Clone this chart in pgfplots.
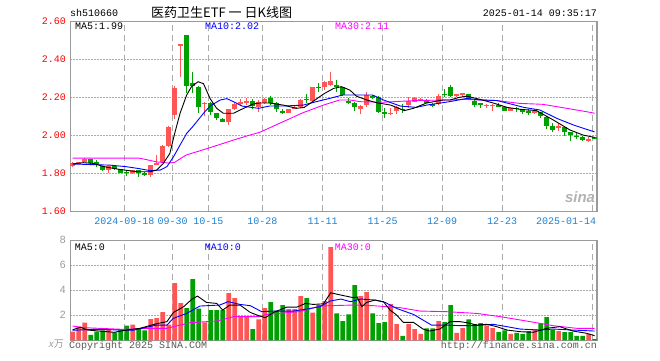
\documentclass[border=0pt]{standalone}
\usepackage{pgfplots}
\pgfplotsset{compat=1.18}
\usepackage{pgfplotstable}
\usepackage{fontspec}
\setmainfont{Liberation Mono}
\newfontfamily\mono{Liberation Mono}
\newfontfamily\sans{Liberation Sans}
\newfontfamily\cjk{Noto Sans CJK SC}
\definecolor{cred}{HTML}{FF5555}
\definecolor{cgreen}{HTML}{00A000}
\definecolor{cblue}{HTML}{0000FF}
\definecolor{cmag}{HTML}{FF00FF}
\definecolor{cdate}{HTML}{1E80D0}
\definecolor{cgrid}{HTML}{ABABAB}
\definecolor{cborder}{HTML}{9A9A9A}

% red (up) candles: index, open, high, low, close, volume
\pgfplotstableread{
i o h l c v
0 1.838 1.860 1.835 1.856 0.69
1 1.852 1.862 1.848 1.858 1.09
2 1.861 1.878 1.858 1.874 1.41
6 1.817 1.840 1.803 1.838 0.90
10 1.800 1.820 1.795 1.817 1.25
13 1.791 1.846 1.778 1.844 1.70
14 1.844 1.896 1.842 1.856 1.78
15 1.859 1.950 1.855 1.944 2.26
16 1.944 2.050 1.940 2.045 1.25
17 2.107 2.258 2.084 2.250 4.57
18 2.474 2.480 2.308 2.478 2.98
22 2.165 2.177 2.102 2.172 1.44
26 2.072 2.140 2.054 2.138 3.78
27 2.137 2.168 2.134 2.165 3.38
28 2.168 2.190 2.154 2.177 1.86
29 2.175 2.195 2.160 2.178 1.91
31 2.151 2.186 2.124 2.174 1.68
32 2.168 2.195 2.165 2.189 2.58
36 2.119 2.140 2.115 2.137 2.50
37 2.143 2.154 2.137 2.146 2.50
38 2.147 2.190 2.145 2.186 3.54
40 2.183 2.255 2.180 2.252 2.21
42 2.256 2.285 2.238 2.282 3.14
43 2.265 2.335 2.262 2.287 7.45
48 2.138 2.160 2.112 2.156 3.54
49 2.159 2.226 2.151 2.212 3.86
53 2.114 2.142 2.107 2.118 2.90
54 2.130 2.154 2.112 2.150 1.30
56 2.159 2.200 2.142 2.180 1.30
57 2.177 2.200 2.175 2.194 0.90
58 2.188 2.196 2.183 2.191 0.51
61 2.165 2.215 2.160 2.206 1.54
64 2.206 2.220 2.200 2.217 0.59
65 2.218 2.222 2.203 2.221 0.98
69 2.157 2.165 2.142 2.160 1.17
70 2.157 2.165 2.130 2.160 0.98
73 2.130 2.145 2.128 2.142 0.51
77 2.122 2.137 2.112 2.125 0.88
81 2.043 2.065 2.024 2.046 0.74
86 1.974 1.989 1.966 1.978 0.51
}\candR

% green (down) candles
\pgfplotstableread{
i o h l c v
3 1.874 1.876 1.850 1.853 0.43
4 1.857 1.870 1.835 1.853 0.69
5 1.838 1.840 1.810 1.817 0.80
7 1.838 1.840 1.815 1.821 0.64
8 1.821 1.825 1.800 1.803 0.85
9 1.808 1.817 1.786 1.805 1.17
11 1.817 1.820 1.782 1.800 0.90
12 1.803 1.806 1.785 1.789 0.80
19 2.528 2.530 2.224 2.259 2.58
20 2.274 2.335 2.221 2.261 4.89
21 2.256 2.258 2.119 2.147 2.53
23 2.172 2.175 2.107 2.124 2.42
24 2.118 2.120 2.078 2.092 2.42
25 2.088 2.090 2.068 2.072 2.42
30 2.180 2.190 2.137 2.154 0.90
33 2.198 2.206 2.159 2.168 3.06
34 2.168 2.177 2.124 2.137 2.37
35 2.126 2.137 2.110 2.122 2.82
39 2.192 2.217 2.168 2.188 3.38
41 2.254 2.277 2.230 2.250 2.82
44 2.265 2.291 2.230 2.252 2.15
45 2.252 2.255 2.205 2.212 1.54
46 2.179 2.195 2.163 2.175 2.07
47 2.172 2.175 2.130 2.147 4.41
50 2.206 2.212 2.190 2.202 2.15
51 2.200 2.205 2.118 2.124 1.38
52 2.121 2.142 2.089 2.117 1.46
55 2.139 2.163 2.119 2.135 0.35
59 2.183 2.190 2.168 2.172 0.96
60 2.165 2.170 2.150 2.154 0.96
62 2.219 2.243 2.203 2.215 1.46
63 2.252 2.265 2.200 2.206 2.82
66 2.217 2.220 2.185 2.189 1.68
67 2.183 2.186 2.147 2.159 1.30
68 2.167 2.168 2.142 2.163 1.38
71 2.158 2.168 2.147 2.154 0.66
72 2.147 2.150 2.128 2.130 0.80
74 2.144 2.150 2.124 2.140 0.59
75 2.130 2.137 2.112 2.126 0.51
76 2.126 2.137 2.107 2.122 0.74
78 2.121 2.124 2.093 2.102 1.36
79 2.095 2.100 2.032 2.051 1.86
80 2.049 2.063 2.019 2.028 0.82
82 2.042 2.045 1.996 2.019 0.66
83 2.019 2.020 1.972 2.001 0.66
84 1.998 2.010 1.979 1.994 0.35
85 1.993 1.997 1.972 1.975 0.35
87 1.988 1.990 1.982 1.985 0.10
}\candG

% price moving averages
\pgfplotstableread{
i m
0 1.849
1.8 1.856
3.5 1.852
5.2 1.835
7.7 1.821
10.8 1.808
12.9 1.808
14 1.817
15.1 1.852
16.2 1.905
17 2.010
17.9 2.116
19 2.212
19.8 2.256
20.9 2.282
21.8 2.272
22.9 2.194
24 2.142
25.1 2.116
26.8 2.116
28.5 2.142
30.1 2.165
31.1 2.170
32.8 2.170
35.1 2.159
37.3 2.142
38.6 2.147
40 2.177
41.8 2.217
43.5 2.247
44.8 2.256
46.2 2.238
47.3 2.206
49 2.186
50.6 2.172
53 2.159
55.3 2.130
56.8 2.142
59 2.170
61.7 2.186
62.9 2.186
64.5 2.200
65.7 2.206
67.9 2.189
70.1 2.170
72.4 2.147
74.5 2.137
77.3 2.130
80.1 2.081
82.9 2.028
85.1 2.001
87 1.989
}\maA

\pgfplotstableread{
i m
0 1.849
3 1.846
6.2 1.843
8.9 1.835
11 1.825
12.9 1.814
14.6 1.817
15.7 1.835
16.8 1.887
17.9 1.949
19 2.010
20.1 2.049
21.8 2.116
22.9 2.154
24.6 2.186
25.7 2.193
26.8 2.177
28.2 2.154
29.8 2.147
31 2.142
32.8 2.154
35.1 2.154
38.4 2.159
40.6 2.177
42.8 2.194
45 2.212
50 2.212
51.8 2.186
54.6 2.154
57.3 2.147
59 2.159
62.8 2.177
65.7 2.194
67.9 2.186
70.7 2.183
73 2.165
75.2 2.147
77.9 2.133
80.7 2.089
83.5 2.054
85.7 2.031
87 2.018
}\maB

\pgfplotstableread{
i m
0 1.880
11 1.880
12 1.874
14 1.860
16 1.854
17 1.858
18.9 1.896
22.6 1.932
26.8 1.975
29.5 2.001
31.2 2.016
35.1 2.072
38.4 2.119
41.8 2.159
44.5 2.186
46.2 2.186
47.9 2.177
51.8 2.174
53.4 2.177
57.3 2.183
62.9 2.186
65.1 2.189
70.7 2.183
74.5 2.168
78.4 2.163
81.8 2.145
85.7 2.124
87 2.116
}\maC

% volume moving averages
\pgfplotstableread{
i m
0 0.85
1.3 1.04
2.5 0.82
6.9 0.64
9 0.82
11.2 0.96
14 1.33
15.7 1.49
16.8 2.23
18.5 2.69
19.9 3.30
20.8 3.54
22.3 3.03
24 2.95
25 2.42
26.2 2.82
27.9 2.82
29.6 2.23
31 1.97
32.1 1.81
33.5 2.23
35.7 2.66
37.4 2.66
38.8 2.95
40.1 2.87
41.8 2.92
43 3.80
44.7 3.62
46.9 3.40
47.4 3.48
48.2 2.69
49 3.03
50.4 3.22
51.8 3.09
52.9 2.42
54 2.02
55.1 1.44
56.8 1.44
58.4 0.90
59.5 0.74
61.2 0.90
62.9 1.49
64.6 1.49
65.7 1.41
67.4 1.22
69 1.28
70.7 1.09
72.4 0.82
74.6 0.69
76.8 0.64
79 0.96
81.2 1.09
83.4 0.74
85.7 0.56
87 0.37
}\vmaA

\pgfplotstableread{
i m
0 0.80
3.6 0.88
10 0.80
14 1.22
15.7 1.22
16.8 1.76
19 2.15
21.2 2.74
24.5 2.82
25.9 3.09
27.9 2.87
29.6 2.77
31.5 2.29
33.5 2.34
36.8 2.34
39 2.50
41.2 2.69
42.9 3.14
44.7 3.30
46.3 3.09
48 3.30
50.4 3.22
52.1 3.03
54 2.55
56.8 2.07
58.4 1.62
59.8 1.22
62.3 1.22
64.6 1.17
66.8 1.17
70.1 1.28
72.4 1.09
74.6 0.90
77.9 0.82
80.1 0.90
83.4 0.82
87 0.74
}\vmaB

\pgfplotstableread{
i m
0 1.14
1.9 1.01
8.3 0.88
13.3 0.96
15.7 0.96
16.8 1.09
19.6 1.41
24 1.54
26.8 1.89
31.2 1.89
32.3 2.07
37.9 2.30
39.5 2.50
41.2 2.75
46.7 2.82
50.1 2.77
54.6 2.61
57.9 2.34
62.3 2.29
67.4 2.15
71.3 1.89
75.7 1.54
80.1 1.17
84 0.96
87 0.96
}\vmaC

\pgfplotsset{
  chartbase/.style={
    scale only axis, anchor=south west,
    width=526.7pt,
    xmin=-0.4, xmax=87.4,
    axis line style={draw=cborder, line width=1.3pt},
    major tick length=0pt,
    xtick={8.6,16.67,22.6,31.6,41.67,51.67,61.6,71.6,86.6},
    xmajorgrids, ymajorgrids,
    x grid style={cgrid, line width=0.9pt, dash pattern=on 6pt off 4pt},
    y grid style={cgrid, line width=0.9pt, dash pattern=on 1.2pt off 1.8pt},
    clip=false,
  },
  wick/.style={only marks, mark=*, mark size=0pt, mark options={draw opacity=0, fill opacity=0}, forget plot,
    error bars/.cd, y dir=both, y explicit, error mark=none,
    error bar style={line width=1pt, draw=#1, draw opacity=1}},
  body/.style={only marks, mark=*, mark size=0pt, mark options={draw opacity=0, fill opacity=0}, forget plot,
    error bars/.cd, y dir=both, y explicit, error mark=none,
    error bar style={line width=5pt, draw=#1, draw opacity=1}},
}

\begin{document}
\begin{tikzpicture}
\useasboundingbox (0,0) rectangle (660pt,360pt);

% ---------- price panel ----------
\begin{axis}[chartbase,
  at={(70.3pt,148.7pt)}, height=190pt,
  ymin=1.6, ymax=2.6,
  ytick={1.6,1.8,2.0,2.2,2.4,2.6},
  yticklabels={1.60,1.80,2.00,2.20,2.40,2.60},
  xticklabels={2024-09-18,09-30,10-15,10-28,11-11,11-25,12-09,12-23,},
  yticklabel style={font=\mono\fontsize{10}{10}\selectfont, text=red, anchor=east, inner sep=0pt, xshift=-4.3pt},
  xticklabel style={font=\mono\fontsize{10}{10}\selectfont, text=cdate, anchor=north, inner sep=0pt, yshift=-6.5pt},
]
\addplot[wick=cred] table[x=i, y expr={(\thisrow{h}+\thisrow{l})/2}, y error expr={(\thisrow{h}-\thisrow{l})/2}] {\candR};
\addplot[wick=cgreen] table[x=i, y expr={(\thisrow{h}+\thisrow{l})/2}, y error expr={(\thisrow{h}-\thisrow{l})/2}] {\candG};
\addplot[body=cred] table[x=i, y expr={(\thisrow{o}+\thisrow{c})/2}, y error expr={max(abs(\thisrow{c}-\thisrow{o})/2,0.0028)}] {\candR};
\addplot[body=cgreen] table[x=i, y expr={(\thisrow{o}+\thisrow{c})/2}, y error expr={max(abs(\thisrow{c}-\thisrow{o})/2,0.0028)}] {\candG};
\addplot[cmag, line width=0.9pt] table[x=i, y=m] {\maC};
\addplot[cblue, line width=0.9pt] table[x=i, y=m] {\maB};
\addplot[black, line width=0.9pt] table[x=i, y=m] {\maA};
\node[anchor=north east, inner sep=0pt, font=\mono\fontsize{10}{10}\selectfont, text=cdate]
  at (axis cs:87.3,1.6) [yshift=-6.5pt] {2025-01-14};
\end{axis}

% ---------- volume panel ----------
\begin{axis}[chartbase,
  at={(70.3pt,19.7pt)}, height=100pt,
  ymin=0, ymax=8,
  ytick={0,2,4,6,8},
  yticklabels={,2,4,6,8},
  xticklabels={},
  yticklabel style={font=\sans\fontsize{10.5}{10.5}\selectfont, text=cborder, anchor=east, inner sep=0pt, xshift=-4.5pt},
]
\addplot[ybar, bar width=4.7pt, bar shift=0pt, fill=cred, draw=none, forget plot] table[x=i, y=v] {\candR};
\addplot[ybar, bar width=4.7pt, bar shift=0pt, fill=cgreen, draw=none, forget plot] table[x=i, y=v] {\candG};
\addplot[cmag, line width=0.9pt] table[x=i, y=m] {\vmaC};
\addplot[cblue, line width=0.9pt] table[x=i, y=m] {\vmaB};
\addplot[black, line width=0.9pt] table[x=i, y=m] {\vmaA};
\end{axis}

% ---------- texts ----------
\node[anchor=west, inner sep=0pt, font=\mono\fontsize{10}{10}\selectfont] at (70pt,347pt) {sh510660};
\node[anchor=west, inner sep=0pt, font=\cjk\fontsize{13}{13}\selectfont] at (151pt,347pt) {医药卫生ETF 一 日K线图};
\node[anchor=east, inner sep=0pt, font=\mono\fontsize{10}{10}\selectfont] at (597pt,347pt) {2025-01-14 09:35:17};

\node[anchor=west, inner sep=0pt, font=\mono\fontsize{10}{10}\selectfont] at (75pt,333.7pt) {MA5:1.99};
\node[anchor=west, inner sep=0pt, font=\mono\fontsize{10}{10}\selectfont, text=cblue] at (205pt,333.7pt) {MA10:2.02};
\node[anchor=west, inner sep=0pt, font=\mono\fontsize{10}{10}\selectfont, text=cmag] at (335pt,333.7pt) {MA30:2.11};

\node[anchor=west, inner sep=0pt, font=\mono\fontsize{10}{10}\selectfont] at (74.7pt,113pt) {MA5:0};
\node[anchor=west, inner sep=0pt, font=\mono\fontsize{10}{10}\selectfont, text=cblue] at (204.7pt,113pt) {MA10:0};
\node[anchor=west, inner sep=0pt, font=\mono\fontsize{10}{10}\selectfont, text=cmag] at (334.7pt,113pt) {MA30:0};

\node[anchor=east, inner sep=0pt, text=cborder] at (64pt,16pt) {{\sans\itshape\fontsize{10}{10}\selectfont x}{\cjk\fontsize{10}{10}\selectfont 万}};
\node[anchor=west, inner sep=0pt, font=\mono\fontsize{10}{10}\selectfont, text=black!65] at (69pt,14.5pt) {Copyright 2025 SINA.COM};
\node[anchor=east, inner sep=0pt, font=\mono\fontsize{10}{10}\selectfont, text=black!65] at (597pt,14.5pt) {http://finance.sina.com.cn};

% sina watermark
\node[anchor=center, inner sep=0pt, font=\sans\bfseries\itshape\fontsize{15}{15}\selectfont, text=black!30] at (580pt,163pt) {sina};
\end{tikzpicture}
\end{document}
